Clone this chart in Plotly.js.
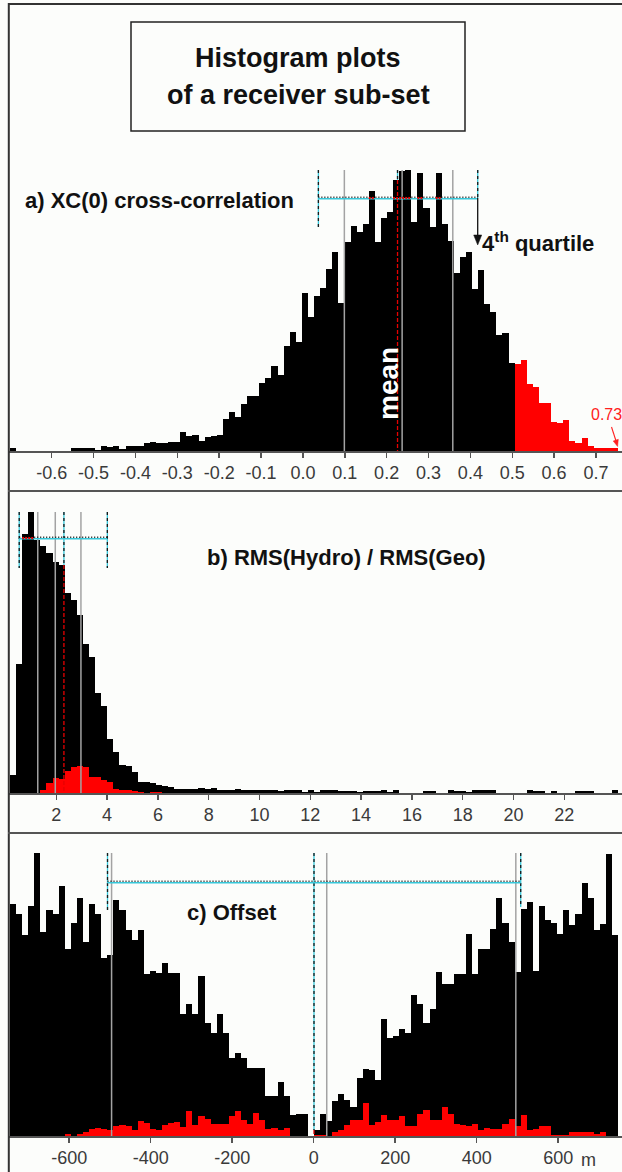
<!DOCTYPE html>
<html><head><meta charset="utf-8">
<script src="https://cdn.plot.ly/plotly-3.0.1.min.js"></script>
<style>html,body{margin:0;padding:0;background:#fcfdfb}#chart{width:622px;height:1172px}</style>
</head><body><div id="chart"></div>
<script>
// ---------- DATA ----------
// a) XC(0) cross-correlation histogram: 100 bins
const binStartA = -0.6995, binWidthA = 0.014521;
const countsA = [
3,0,0,0,0,0,0,0,0,0,
3,3,3,3,1,5,4,5,2,5,
5,5,8,9,8,8,9,9,19,15,
16,10,14,15,16,32,39,34,47,55,
55,68,73,85,76,105,119,109,158,134,
155,163,182,199,148,209,225,219,227,260,
209,233,239,271,280,281,229,278,243,224,
278,227,210,178,194,199,162,181,147,139,
116,118,88,87,91,67,64,48,48,29,
28,31,10,8,13,5,3,3,3,3];
const subsetA = [
0,0,0,0,0,0,0,0,0,0,
0,0,0,0,0,0,0,0,0,0,
0,0,0,0,0,0,0,0,0,0,
0,0,0,0,0,0,0,0,0,0,
0,0,0,0,0,0,0,0,0,0,
0,0,0,0,0,0,0,0,0,0,
0,0,0,0,0,0,0,0,0,0,
0,0,0,0,0,0,0,0,0,0,
0,0,0,87,91,67,64,48,48,29,
28,31,10,8,13,5,3,3,3,3];
const ticksA = [-0.6,-0.5,-0.4,-0.3,-0.2,-0.1,0.0,0.1,0.2,0.3,0.4,0.5,0.6,0.7];
const tickLabelsA = ['-0.6','-0.5','-0.4','-0.3','-0.2','-0.1','0.0','0.1','0.2','0.3','0.4','0.5','0.6','0.7'];
const grayA = [0.099, 0.237, 0.358];
const quartA = [0.037, 0.4175];
const meanA = 0.226;

// b) RMS(Hydro)/RMS(Geo) histogram
const binStartB = 0.1772, binWidthB = 0.23937;
const countsB = [
18,129,259,281,253,247,240,231,228,200,
193,178,149,136,100,87,54,41,28,27,
21,11,11,10,8,7,6,4,4,4,
4,5,4,5,3,3,3,4,3,3,
3,3,3,3,2,3,3,3,1,3,
1,3,3,3,2,2,2,1,2,2,
2,3,1,3,0,0,0,0,2,2,
0,0,3,2,2,1,3,3,3,3,
0,0,0,0,0,3,2,2,0,2,
0,0,0,2,2,2,0,0,0,3];
const subsetB = [
0,0,0,0,0,3,10,15,14,22,
26,27,26,16,16,13,11,4,3,3,
2,1,0,1.5,1.5,0,0,0,0,0,
0,0,0,0,0,0,0,0,0,0,
0,0,0,0,0,0,0,0,0,0,
0,0,0,0,0,0,0,0,0,0,
0,0,0,0,0,0,0,0,0,0,
0,0,0,0,0,0,0,0,0,0,
0,0,0,0,0,0,0,0,0,0,
0,0,0,0,0,0,0,0,0,0];
const ticksB = [2,4,6,8,10,12,14,16,18,20,22];
const tickLabelsB = ['2','4','6','8','10','12','14','16','18','20','22'];
const grayB = [1.27, 1.96, 2.97];
const quartB = [0.54, 4.01];
const meanB = 2.30;

// c) Offset histogram (m)
const binStartC = -745.3, binWidthC = 14.92;
const countsC = [
232,222,201,230,283,204,226,222,250,187,
213,238,194,232,222,178,181,236,226,206,
196,206,162,165,163,173,163,163,122,132,
122,160,113,103,122,103,78,83,78,68,
68,68,40,40,54,40,21,22,22,0,
6,22,15,35,42,36,29,58,67,66,
56,117,98,100,107,103,141,132,113,127,
164,152,152,162,162,202,162,187,187,207,
238,213,194,164,227,234,165,230,216,213,
202,226,211,222,253,238,206,212,282,201];
const subsetC = [
0,0,0,0,0,0,0,0,0,2,
0,2,4,7,8,7,6,10,11,10,
6,15,13,7,6,11,13,14,9,25,
11,20,17,12,12,12,20,25,16,12,
23,16,7,8,6,8,0,0,0,0,
1,1,0,4,6,11,16,16,33,11,
14,21,16,16,20,10,10,22,26,16,
16,29,22,12,11,10,12,6,8,7,
7,12,17,10,21,6,7,10,10,1,
1,1,4,4,4,4,2,4,0,0];
const ticksC = [-600,-400,-200,0,200,400,600];
const tickLabelsC = ['-600','-400','-200','0','200','400','600'];
const grayC = [-496, 32, 496];
const quartC = [-506, 508];
const meanC = 0.7;

// ---------- LAYOUT HELPERS ----------
const W = 622, H = 1172;
const py = p => 1 - p / H;
const pxp = p => p / W;
const FONT = 'Liberation Sans, Arial, Helvetica, sans-serif';
const CYAN = '#36c8da', RED = '#e60000', GRAY = '#a3a3a3';
const LEFT = 9;

const panels = [
  {id:'', counts:countsA, subset:subsetA, start:binStartA, width:binWidthA, top:170, base:451,
   range:[(LEFT-302.9)/418.7, (622-302.9)/418.7], ticks:ticksA, labels:tickLabelsA,
   grays:grayA, quart:quartA, quartBottom:[227,198], mean:meanA, bracketY:198},
  {id:'2', counts:countsB, subset:subsetB, start:binStartB, width:binWidthB, top:512, base:793,
   range:[(LEFT-5.5)/25.4, (622-5.5)/25.4], ticks:ticksB, labels:tickLabelsB,
   grays:grayB, quart:quartB, quartBottom:[568,568], mean:meanB, bracketY:538},
  {id:'3', counts:countsC, subset:subsetC, start:binStartC, width:binWidthC, top:853, base:1136,
   range:[(LEFT-313.7)/0.4075, (622-313.7)/0.4075], ticks:ticksC, labels:tickLabelsC,
   grays:grayC, quart:quartC, quartBottom:[910,907], mean:meanC, bracketY:882}
];

const traces = [];
const shapes = [];
const layout = {
  width: W, height: H, margin:{l:0,r:0,t:0,b:0},
  paper_bgcolor:'#fcfdfb', plot_bgcolor:'rgba(0,0,0,0)',
  showlegend:false, barmode:'overlay', bargap:0,
  font:{family:FONT}
};

function vline(xref, x, y0, y1, color, width, dash) {
  return {type:'line', xref:xref, yref:'paper', x0:x, x1:x, y0:py(y0), y1:py(y1),
          line:{color:color, width:width, dash:dash||'solid'}};
}
function hline(xref, xa, xb, y, color, width, dash) {
  return {type:'line', xref:xref, yref:'paper', x0:xa, x1:xb, y0:py(y), y1:py(y),
          line:{color:color, width:width, dash:dash||'solid'}};
}
function cyanDash(xref, x, y0, y1) {
  if (y1 - y0 < 1) return [];
  return [vline(xref, x, y0, y1, CYAN, 1.3), vline(xref, x, y0, y1, '#1a1a1a', 1.3, '3px,3px')];
}
function pline(x0, y0, x1, y1, color, width) {
  return {type:'line', xref:'paper', yref:'paper', x0:pxp(x0), x1:pxp(x1), y0:py(y0), y1:py(y1),
          line:{color:color, width:width}};
}
function tri(pts, color) {
  const d = pts.map((p, i) => (i ? 'L' : 'M') + pxp(p[0]).toFixed(5) + ',' + py(p[1]).toFixed(5)).join(' ') + ' Z';
  return {type:'path', xref:'paper', yref:'paper', path:d, fillcolor:color, line:{color:color, width:0.5}};
}

panels.forEach(p => {
  const xa = 'x' + p.id, ya = 'y' + p.id;
  const xs = p.counts.map((_, i) => p.start + p.width * (i + 0.5));
  const yMax = Math.max(...p.counts);
  traces.push({type:'bar', x:xs, y:p.counts, width:p.width, xaxis:xa, yaxis:ya,
               marker:{color:'#000000', line:{width:0}}, hoverinfo:'skip'});
  traces.push({type:'bar', x:xs, y:p.subset, width:p.width, xaxis:xa, yaxis:ya,
               marker:{color:'#ff0000', line:{width:0}}, hoverinfo:'skip'});
  const scale = (p.base - p.top) / yMax;
  layout['xaxis' + p.id] = {
    domain:[pxp(LEFT),1], range:p.range, anchor:ya, showgrid:false, zeroline:false,
    showline:true, linecolor:'#555', linewidth:1.5,
    ticks:'outside', ticklen:5, tickwidth:1.5, tickcolor:'#555',
    tickmode:'array', tickvals:p.ticks, ticktext:p.labels,
    tickfont:{family:FONT, size:18, color:'#3a3a3a'}, fixedrange:true
  };
  layout['yaxis' + p.id] = {
    domain:[py(p.base), py(p.top)], range:[0, yMax], visible:false, fixedrange:true
  };
  // gray statistic lines
  p.grays.forEach(g => shapes.push(vline(xa, g, p.top, p.base, GRAY, 1.5)));
  // mean line: cyan/black above the bar, red (inverted) inside the bar
  const mb = Math.floor((p.mean - p.start) / p.width);
  const barTop = p.base - p.counts[mb] * scale;
  cyanDash(xa, p.mean, p.top, barTop).forEach(s => shapes.push(s));
  if (p.base - barTop > 1) shapes.push(vline(xa, p.mean, barTop, p.base, RED, 1.3, '4px,2px'));
  // quartile dashed markers
  p.quart.forEach((q, k) => cyanDash(xa, q, p.top, p.quartBottom[k]).forEach(s => shapes.push(s)));
  // bracket dotted line
  shapes.push(hline(xa, p.quart[0], p.quart[1], p.bracketY + 0.7, CYAN, 1.4));
  shapes.push(hline(xa, p.quart[0], p.quart[1], p.bracketY - 0.7, '#111', 1.4, '1px,2px'));
  const lvl = p.base - p.bracketY;
  p.counts.forEach((c, i) => {
    const e0 = p.start + p.width * i, e1 = e0 + p.width;
    if (c * scale > lvl && e1 > p.quart[0] && e0 < p.quart[1]) {
      shapes.push(hline(xa, Math.max(e0, p.quart[0]), Math.min(e1, p.quart[1]), p.bracketY, RED, 2, '2px,1px'));
    }
  });
});

// arrow to the 4th quartile
shapes.push(pline(477.7, 198, 477.7, 237, '#111', 1.3));
shapes.push(tri([[473.7, 235], [481.7, 235], [477.7, 245]], '#111'));
// small red arrow pointing at the maximum value
shapes.push(pline(611.5, 427, 616.2, 441.5, '#ff2020', 1.1));
shapes.push(tri([[618.3, 439.3], [613.2, 441.0], [617.6, 446.5]], '#ff2020'));

// frame lines
shapes.push(pline(8.8, 3, 8.8, 1172, '#333', 2));
shapes.push(pline(8, 4, 622, 4, '#333', 2));
shapes.push(pline(8, 491, 622, 491, '#555', 2));
shapes.push(pline(8, 833, 622, 833, '#555', 2));
// title box
shapes.push({type:'rect', xref:'paper', yref:'paper', x0:pxp(131), x1:pxp(465), y0:py(131), y1:py(22),
             line:{color:'#222', width:1.5}, fillcolor:'rgba(0,0,0,0)'});
layout.shapes = shapes;

function txt(text, x, y, size, opts) {
  return Object.assign({text:text, xref:'paper', yref:'paper', x:pxp(x), y:py(y),
    xanchor:'center', yanchor:'middle', showarrow:false,
    font:{family:FONT, size:size, color:'#111'}}, opts || {});
}
layout.annotations = [
  txt('<b>Histogram plots</b>', 298, 58, 27),
  txt('<b>of a receiver sub-set</b>', 298, 95, 27),
  txt('<b>a) XC(0) cross-correlation</b>', 23, 201, 22, {xanchor:'left'}),
  txt('<b>4<sup>th</sup> quartile</b>', 480, 242, 22, {xanchor:'left'}),
  txt('<b>mean</b>', 388, 384, 28, {textangle:-90, font:{family:FONT, size:28, color:'#ffffff'}}),
  txt('0.73', 589, 414, 16, {xanchor:'left', font:{family:FONT, size:16, color:'#ff2020'}}),
  txt('<b>b) RMS(Hydro) / RMS(Geo)</b>', 346, 557, 22),
  txt('<b>c) Offset</b>', 232, 912, 22),
  txt('m', 588, 1160, 18, {font:{family:FONT, size:18, color:'#3a3a3a'}})
];

Plotly.newPlot('chart', traces, layout, {staticPlot:true, displayModeBar:false});
</script>
</body></html>
